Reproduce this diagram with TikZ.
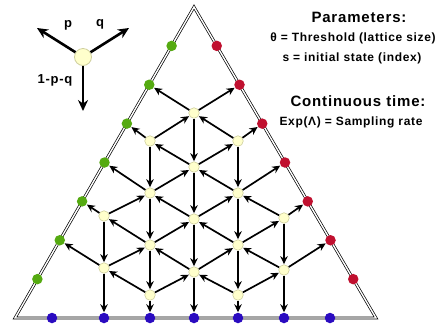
\documentclass[tikz,border=0pt]{standalone}
\usepackage{fontspec}
\setmainfont{Liberation Sans}
\newfontfamily\widefont[LetterSpace=5.5]{Liberation Sans}
\usetikzlibrary{arrows.meta,calc}
\definecolor{nodeyellow}{HTML}{FFFFCC}
\definecolor{nodeedge}{HTML}{CFCF9E}
\definecolor{gnode}{HTML}{55AA11}
\definecolor{rnode}{HTML}{C0102F}
\definecolor{bnode}{HTML}{2A0BC0}
\begin{document}
\begin{tikzpicture}[x=1pt,y=-1pt,
  inner/.style={circle,fill=nodeyellow,draw=nodeedge,line width=0.6pt,minimum size=10.5pt,inner sep=0pt},
  gdot/.style={circle,fill=gnode,minimum size=10.5pt,inner sep=0pt},
  rdot/.style={circle,fill=rnode,minimum size=10.5pt,inner sep=0pt},
  bdot/.style={circle,fill=bnode,minimum size=10.5pt,inner sep=0pt},
  conn/.style={-{Stealth[length=8pt,width=7.5pt]},line width=1.7pt,shorten >=0.3pt},
  legarrow/.style={-{Stealth[length=11pt,width=10pt]},line width=2.6pt},
  rim/.style={draw=black,line width=0.7pt,double=white,double distance=1.4pt,line join=miter},
  title/.style={font=\widefont\bfseries\fontsize{15}{17}\selectfont,inner sep=0pt},
  info/.style={font=\widefont\bfseries\fontsize{12}{14}\selectfont,inner sep=0pt},
  leglabel/.style={font=\widefont\bfseries\fontsize{13}{15}\selectfont,inner sep=0pt}]
\useasboundingbox (0,0) rectangle (439,325);
% triangle
\coordinate (A) at (194,7);
\coordinate (B) at (15,318);
\coordinate (C) at (376,318);
\draw[rim] (A) -- (B) -- (C) -- cycle;
% boundary nodes
\foreach \k in {1,...,7}{
  \node[gdot] (g\k) at ($(A)!{\k/8}!(B)$) {};
  \node[rdot] (r\k) at ($(A)!{\k/8}!(C)$) {};
}
\node[bdot] (b1) at (52,318) {};
\node[bdot] (b2) at (104,318) {};
\node[bdot] (b3) at (150,318) {};
\node[bdot] (b4) at (194,318) {};
\node[bdot] (b5) at (238,318) {};
\node[bdot] (b6) at (284,318) {};
\node[bdot] (b7) at (330,318) {};
% interior nodes
\node[inner] (i1) at (194,113) {};
\node[inner] (i2) at (150,141) {};
\node[inner] (i3) at (238,141) {};
\node[inner] (i4) at (194,167) {};
\node[inner] (i5) at (150,193) {};
\node[inner] (i6) at (238,193) {};
\node[inner] (i7) at (104,216) {};
\node[inner] (i8) at (194,219) {};
\node[inner] (i9) at (284,218) {};
\node[inner] (i10) at (150,245) {};
\node[inner] (i11) at (238,245) {};
\node[inner] (i12) at (104,268) {};
\node[inner] (i13) at (194,272) {};
\node[inner] (i14) at (284,270) {};
\node[inner] (i15) at (150,295) {};
\node[inner] (i16) at (238,295) {};
% arrows
\foreach \s/\a/\b/\c in {i1/g2/r2/i4, i2/g3/i1/i5, i3/i1/r3/i6, i4/i2/i3/i8,
  i5/g4/i4/i10, i6/i4/r4/i11, i7/g5/i5/i12, i8/i5/i6/i13, i9/i6/r5/i14,
  i10/i7/i8/i15, i11/i8/i9/i16, i12/g6/i10/b2, i13/i10/i11/b4, i14/i11/r6/b6,
  i15/i12/i13/b3, i16/i13/i14/b5}{
  \draw[conn] (\s) -- (\a);
  \draw[conn] (\s) -- (\b);
  \draw[conn] (\s) -- (\c);
}
% legend
\node[inner,minimum size=17pt,line width=0.8pt] (leg) at (83,57) {};
\coordinate (lp) at (37,28);
\coordinate (lq) at (129,28);
\coordinate (ld) at (83,111);
\draw[legarrow] (leg) -- (lp);
\draw[legarrow] (leg) -- (lq);
\draw[legarrow] (leg) -- (ld);
\node[leglabel] (tp) at (68,25) {p};
\node[leglabel] (tq) at (100,24) {q};
\node[leglabel] (tpq) at (55,80) {1-p-q};
% texts
\node[title] (t1) at (359,17) {Parameters:};
\node[info] (t2) at (353,38) {θ = Threshold (lattice size)};
\node[info] (t3) at (352,58) {s = initial state (index)};
\node[title] (t4) at (358,101) {Continuous time:};
\node[info] (t5) at (351,122) {Exp(Λ) = Sampling rate};
\end{tikzpicture}
\end{document}
